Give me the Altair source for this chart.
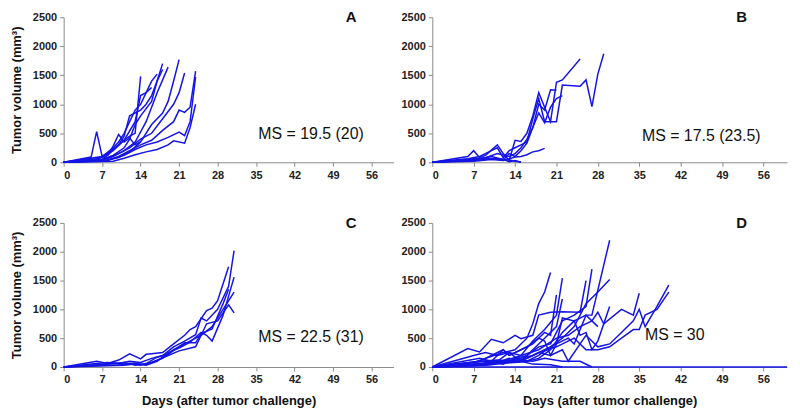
import altair as alt
import pandas as pd

# ---------------- data ----------------
A_days = [
    [0, 5, 6, 7, 9, 11, 13, 14, 15, 16],
    [0, 6, 8, 10, 11, 12, 13, 14],
    [0, 7, 9, 11, 12, 13, 14, 16, 17, 18],
    [0, 7, 9, 11, 13, 15, 16, 17, 19],
    [0, 7, 10, 12, 14, 16, 18, 19, 20, 21],
    [0, 7, 10, 12, 14, 16, 18, 20, 21, 22],
    [0, 8, 10, 12, 14, 16, 18, 20, 21, 22, 23, 24],
    [0, 8, 11, 13, 15, 17, 19, 21, 22, 23, 24],
    [0, 9, 11, 13, 15, 17, 19, 20, 22, 23, 24],
    [0, 7, 8, 9, 10, 11, 12, 13, 14],
    [0, 7, 9, 10, 11, 12, 13, 14, 15, 16, 17],
    [0, 6, 8, 10, 11, 12, 14, 15, 16, 17, 18],
]
A_vols = [
    [0, 90, 530, 100, 200, 380, 700, 1150, 1200, 1290],
    [0, 60, 150, 300, 380, 450, 500, 1480],
    [0, 40, 120, 250, 400, 650, 800, 1050, 1400, 1700],
    [0, 30, 100, 200, 350, 700, 950, 1200, 1640],
    [0, 20, 80, 180, 350, 650, 850, 1050, 1400, 1770],
    [0, 50, 150, 250, 400, 500, 750, 1000, 1200, 1540],
    [0, 30, 100, 200, 300, 380, 550, 700, 900, 860, 950, 1570],
    [0, 40, 120, 220, 300, 350, 430, 520, 460, 700, 1470],
    [0, 20, 70, 130, 180, 220, 300, 370, 330, 600, 1000],
    [0, 50, 120, 280, 480, 350, 420, 300, 350],
    [0, 100, 250, 350, 500, 700, 900, 1000, 1200, 1400, 1520],
    [0, 50, 120, 300, 450, 800, 900, 1000, 1150, 1400, 1600],
]

B_days = [
    [0, 6, 7, 8, 9, 11, 12, 13, 14, 15, 16, 17, 18, 19, 20, 21, 22, 25],
    [0, 6, 8, 10, 11, 12, 13, 14, 15, 16, 17, 18, 19, 21, 22, 25, 26, 27, 28, 29],
    [0, 7, 9, 11, 13, 14, 15, 16, 17, 18, 19, 20, 21],
    [0, 7, 10, 12, 13, 14, 15, 16, 17, 18, 19, 20, 21, 22],
    [0, 7, 10, 12, 14, 15, 16, 17, 18, 19],
    [0, 7, 10, 12, 13, 14, 15],
    [0, 8, 11, 13, 14, 15],
]
B_vols = [
    [0, 100, 200, 80, 120, 300, 150, 30, 380, 360, 500, 800, 1200, 950, 700, 1380, 1420, 1780],
    [0, 60, 100, 200, 250, 80, 200, 250, 300, 350, 750, 1100, 700, 700, 1330, 1310, 1420, 960, 1520, 1870],
    [0, 50, 80, 150, 100, 150, 250, 400, 600, 1000, 900, 1250, 1240],
    [0, 30, 60, 40, 150, 100, 200, 330, 600, 850, 680, 950, 1100, 1150],
    [0, 20, 50, 30, 90, 100, 130, 180, 200, 240],
    [0, 40, 100, 50, 10, 30, 0],
    [0, 70, 60, 40, 20, 5],
]

C_days = [
    [0, 6, 8, 10, 12, 14, 15, 16, 18, 20, 22, 23, 24, 26, 27, 28, 30],
    [0, 5, 8, 10, 12, 14, 16, 18, 20, 22, 24, 25, 26, 28, 30, 31],
    [0, 7, 9, 11, 13, 15, 17, 19, 21, 23, 25, 26, 27, 29, 31],
    [0, 7, 10, 12, 14, 16, 18, 20, 22, 24, 25, 27, 29, 31],
    [0, 8, 11, 13, 15, 17, 19, 21, 24, 26, 28, 30, 31],
    [0, 8, 11, 13, 15, 17, 19, 22, 24, 25, 27, 29, 30],
]
C_vols = [
    [0, 100, 60, 120, 230, 140, 220, 230, 250, 400, 550, 650, 700, 980, 1020, 1150, 1740],
    [0, 50, 80, 60, 100, 80, 150, 200, 350, 450, 560, 850, 800, 1000, 1400, 2020],
    [0, 40, 70, 50, 70, 30, 100, 250, 330, 430, 600, 550, 450, 900, 1560],
    [0, 30, 40, 60, 30, 80, 150, 300, 400, 500, 550, 700, 1000, 1300],
    [0, 20, 30, 50, 40, 120, 200, 280, 350, 750, 800, 1080, 940],
    [0, 50, 80, 30, 60, 170, 220, 420, 420, 580, 660, 1100, 1350],
]

D_days = [
    [0, 60],
    [0, 6, 8, 10, 12, 14, 15, 17, 18, 20, 22, 25, 26],
    [0, 7, 9, 12, 14, 16, 17, 18, 19, 20],
    [0, 8, 10, 12, 13, 15, 17, 19, 20, 21],
    [0, 8, 11, 13, 15, 17, 19, 21, 22],
    [0, 8, 11, 13, 15, 17, 19, 21, 22],
    [0, 9, 12, 14, 16, 18, 20, 22, 24, 26, 27],
    [0, 8, 11, 14, 16, 18, 20, 22, 24, 26, 28, 30],
    [0, 9, 12, 15, 17, 19, 21, 23, 24, 26, 27, 30],
    [0, 10, 13, 16, 18, 20, 22, 24, 25, 26, 27, 28, 30],
    [0, 8, 11, 14, 16, 18, 20, 22, 23, 25, 26, 28, 30, 32, 34, 35, 36, 38, 40],
    [0, 9, 12, 15, 18, 21, 23, 25, 27, 28, 29, 32, 34, 35],
    [0, 9, 12, 15, 18, 21, 24, 26, 28, 30, 32, 34, 35, 36, 38, 40],
    [0, 10, 14, 17, 19, 22, 25, 27],
    [0, 7, 9, 11, 13, 15, 17, 20, 22],
    [0, 8, 10, 12, 13, 14, 16, 18, 19, 20, 21, 22, 24, 26, 28],
]
D_vols = [
    [0, 0],
    [0, 320, 260, 480, 420, 550, 490, 550, 900, 950, 960, 950, 1500],
    [0, 80, 150, 250, 300, 500, 750, 1100, 1300, 1640],
    [0, 100, 200, 300, 200, 300, 400, 600, 550, 1250],
    [0, 60, 100, 250, 200, 450, 650, 900, 1540],
    [0, 40, 80, 150, 100, 300, 500, 700, 1180],
    [0, 100, 50, 150, 200, 350, 400, 800, 900, 1050, 1700],
    [0, 30, 60, 80, 100, 200, 350, 500, 700, 1100, 1300, 1520],
    [0, 50, 80, 150, 200, 300, 400, 500, 400, 900, 900, 2200],
    [0, 40, 80, 100, 150, 300, 600, 800, 550, 600, 300, 450, 1050],
    [0, 100, 120, 100, 150, 250, 200, 300, 100, 400, 550, 350, 400, 600, 800, 1000, 700, 1050, 1420],
    [0, 60, 100, 200, 300, 500, 550, 700, 800, 950, 750, 1000, 900, 1280],
    [0, 30, 80, 100, 250, 350, 500, 300, 300, 350, 500, 650, 650, 900, 1000, 1300],
    [0, 50, 120, 100, 150, 100, 100, 0],
    [0, 200, 250, 200, 250, 100, 50, 40, 0],
    [0, 150, 100, 300, 200, 250, 350, 500, 450, 200, 400, 850, 800, 900, 700],
]

panel_labels = ["A", "B", "C", "D"]
ms_texts = ["MS = 19.5 (20)", "MS = 17.5 (23.5)", "MS = 22.5 (31)", "MS = 30"]
ms_day = [45, 45.5, 45, 41]
ms_vol = [480, 460, 520, 550]

x_ticks = [0, 7, 14, 21, 28, 35, 42, 49, 56]
y_ticks = [0, 500, 1000, 1500, 2000, 2500]

LINE_COLOR = "#1414e6"
FONT = "Liberation Sans"


def to_frame(days_list, vols_list):
    rows = []
    for i, (ds, vs) in enumerate(zip(days_list, vols_list)):
        for d, v in zip(ds, vs):
            rows.append({"mouse": i, "day": d, "vol": v})
    return pd.DataFrame(rows)


def panel(days_list, vols_list, idx, show_xtitle, show_ytitle, width, height):
    df = to_frame(days_list, vols_list)
    xaxis = alt.Axis(values=x_ticks, format="d", labelOverlap=False,
                     title="Days (after tumor challenge)" if show_xtitle else None,
                     titlePadding=10)
    yaxis = alt.Axis(values=y_ticks, format="d", labelOverlap=False, tickCount=6,
                     title="Tumor volume (mm³)" if show_ytitle else None,
                     titlePadding=9)
    xs = alt.Scale(domain=[0, 60], nice=False, zero=True)
    ys = alt.Scale(domain=[0, 2500], nice=False)
    X = alt.X("day:Q", scale=xs, axis=xaxis)
    Y = alt.Y("vol:Q", scale=ys, axis=yaxis)
    lines = alt.Chart(df).mark_line(color=LINE_COLOR, strokeWidth=1.5).encode(
        x=X, y=Y, detail="mouse:N", order="day:Q",
    )
    ms_df = pd.DataFrame({"day": [ms_day[idx]], "vol": [ms_vol[idx]], "t": [ms_texts[idx]]})
    ms = alt.Chart(ms_df).mark_text(font=FONT, fontSize=16, color="#111", align="center",
                                     baseline="middle").encode(x=X, y=Y, text="t:N")
    lab_df = pd.DataFrame({"day": [52.3], "vol": [2500], "t": [panel_labels[idx]]})
    lab = alt.Chart(lab_df).mark_text(font=FONT, fontSize=15, fontWeight="bold", color="#111",
                                       align="center", baseline="middle").encode(
        x=X, y=Y, text="t:N")
    return alt.layer(lines, ms, lab).properties(width=width, height=height)


pA = panel(A_days, A_vols, 0, False, True, 332, 146)
pB = panel(B_days, B_vols, 1, False, False, 357, 146)
pC = panel(C_days, C_vols, 2, True, True, 332, 145)
pD = panel(D_days, D_vols, 3, True, False, 357, 145)

chart = alt.vconcat(
    alt.hconcat(pA, pB, spacing=7),
    alt.hconcat(pC, pD, spacing=7),
    spacing=36,
).properties(
    padding={"left": 2, "right": 2, "top": 1, "bottom": 2}
).configure_view(stroke=None).configure_axis(
    grid=False, labelOverlap=False,
    labelFont=FONT, labelFontSize=11, labelFontWeight="bold", labelColor="#222",
    labelPadding=3,
    titleFont=FONT, titleFontSize=13, titleFontWeight="bold", titleColor="#111",
    domainColor="#8a8a8a", tickColor="#8a8a8a", tickSize=4, domainWidth=1,
)

chart.save("out.html", embed_options={"renderer": "svg", "actions": False})
